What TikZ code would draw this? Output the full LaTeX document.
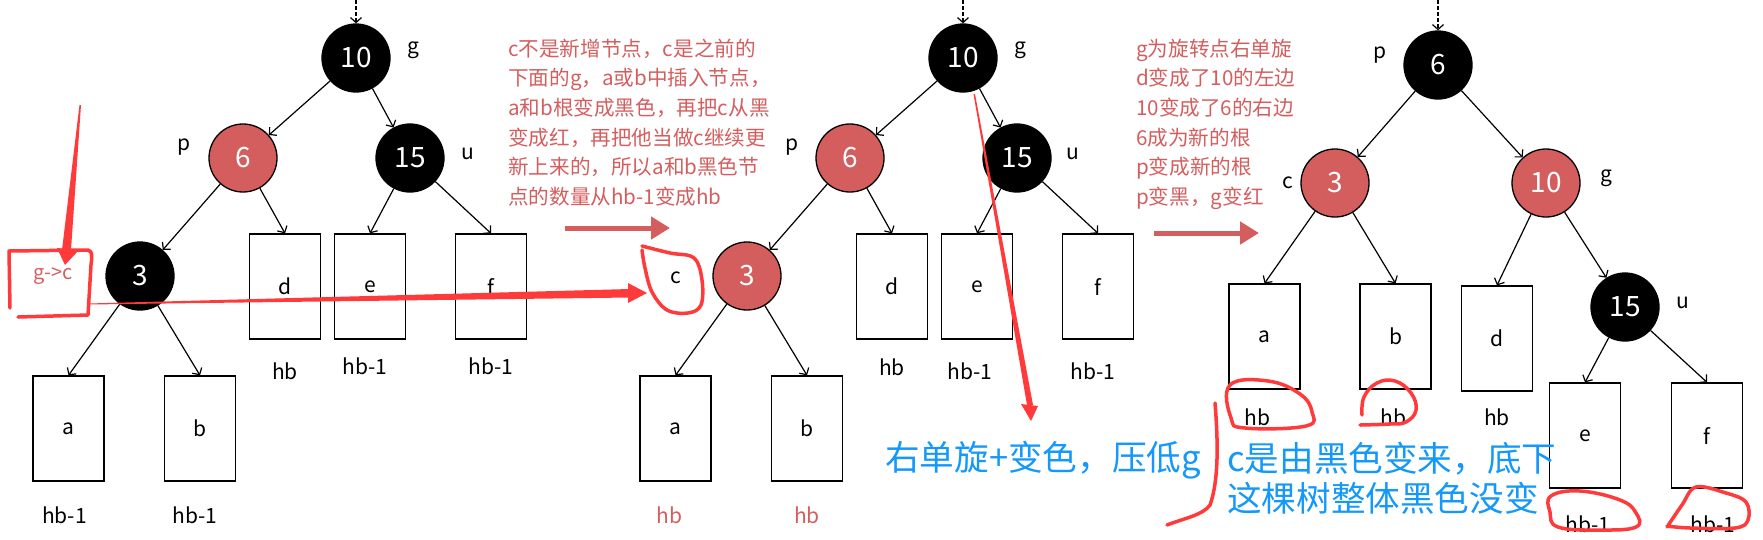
\documentclass[tikz,border=0pt]{standalone}
\usepackage{fontspec}
\setmainfont{Noto Sans CJK SC}
\usetikzlibrary{arrows.meta,positioning}

\definecolor{rbred}{RGB}{212,94,94}
\definecolor{inkred}{RGB}{255,58,58}
\definecolor{sayblue}{RGB}{20,152,250}

\begin{document}
\begin{tikzpicture}[
    x=1pt, y=-1pt, on grid,
    bnode/.style={circle, draw, line width=1.3pt, fill=black, text=white, minimum size=68pt, inner sep=0pt, font=\fontsize{28}{30}\selectfont},
    rnode/.style={bnode, fill=rbred},
    sub/.style={draw, line width=1.3pt, minimum width=71pt, minimum height=105pt, inner sep=0pt, font=\fontsize{21}{24}\selectfont},
    tag/.style={inner sep=0pt, font=\fontsize{21}{24}\selectfont},
    edge/.style={-{Straight Barb[length=5pt,width=11pt]}, line width=1.2pt},
    entry/.style={edge, dash pattern=on 3.5pt off 2.5pt},
    note/.style={text=rbred, align=left, inner sep=0pt, font=\fontsize{20.6}{29.7}\selectfont},
    say/.style={text=sayblue, align=left, inner sep=0pt, font=\fontsize{34.6}{40}\selectfont},
    go/.style={draw=rbred, line width=5pt, -{Triangle[length=19pt,width=22pt]}},
    ink/.style={draw=inkred, line width=3.5pt, line cap=round, line join=round}
]
\useasboundingbox (0,0) rectangle (1763,539);

% before: 3 is black
\node[bnode] (g1) at (356,58) {10};
\node[rnode, below left=100pt and 113pt of g1] (p1) {6};
\node[bnode, below right=100pt and 54pt of g1] (u1) {15};
\node[bnode, below left=118pt and 103pt of p1] (c1) {3};
\node[sub, below right=128.5pt and 42pt of p1] (d1) {d};
\node[sub, below left=128.5pt and 40pt of u1] (e1) {e};
\node[sub, below right=128.5pt and 81pt of u1] (f1) {f};
\node[sub, below left=152.5pt and 71.5pt of c1] (a1) {a};
\node[sub, below right=152.5pt and 60pt of c1] (b1) {b};
\node[tag, above right=8pt and 57pt of g1] (lg1) {g};
\node[tag, above left=11pt and 59pt of p1] (lp1) {p};
\node[tag, above right=4pt and 58pt of u1] (lu1) {u};
\node[tag, text=rbred, font=\fontsize{20}{24}\selectfont, left=87pt of c1] (gc) {g->c};
\node[tag, below=25pt of a1.south, xshift=-4pt] (ha1) {hb-1};
\node[tag, below=25pt of b1.south, xshift=-5pt] (hb1) {hb-1};
\node[tag, below=23pt of d1.south] (hd1) {hb};
\node[tag, below=18pt of e1.south, xshift=-5pt] (he1) {hb-1};
\node[tag, below=18pt of f1.south] (hf1) {hb-1};
\coordinate[above=58pt of g1] (in1);
\draw[entry] (in1) -- (g1);
\draw[edge] (g1) -- (p1);
\draw[edge] (g1) -- (u1);
\draw[edge] (p1) -- (c1);
\draw[edge] (p1) -- (d1.north);
\draw[edge] (u1) -- (e1.north);
\draw[edge] (u1) -- (f1.north);
\draw[edge] (c1) -- (a1.north);
\draw[edge] (c1) -- (b1.north);

% anchored at the baseline of the last line
\node[note, anchor=base west] (why) at (508,204.5) {c不是新增节点，c是之前的\\下面的g，a或b中插入节点，\\a和b根变成黑色，再把c从黑\\变成红，再把他当做c继续更\\新上来的，所以a和b黑色节\\点的数量从hb-1变成hb};
\coordinate (s1) at (565,228);
\coordinate (t1) at (670,228);
\draw[go] (s1) -- (t1);

% after recolouring: 3 is red
\node[bnode] (g2) at (963,58) {10};
\node[rnode, below left=100pt and 113pt of g2] (p2) {6};
\node[bnode, below right=100pt and 54pt of g2] (u2) {15};
\node[rnode, below left=118pt and 103pt of p2] (c2) {3};
\node[sub, below right=128.5pt and 42pt of p2] (d2) {d};
\node[sub, below left=128.5pt and 40pt of u2] (e2) {e};
\node[sub, below right=128.5pt and 81pt of u2] (f2) {f};
\node[sub, below left=152.5pt and 71.5pt of c2] (a2) {a};
\node[sub, below right=152.5pt and 60pt of c2] (b2) {b};
\node[tag, above right=8pt and 57pt of g2] (lg2) {g};
\node[tag, above left=11pt and 58pt of p2] (lp2) {p};
\node[tag, above right=4pt and 56pt of u2] (lu2) {u};
\node[tag, below left=2pt and 71pt of c2] (lc2) {c};
\node[tag, text=rbred, below=25pt of a2.south, xshift=-6pt] (ha2) {hb};
\node[tag, text=rbred, below=25pt of b2.south] (hb2) {hb};
\node[tag, below=19pt of d2.south] (hd2) {hb};
\node[tag, below=23pt of e2.south, xshift=-7pt] (he2) {hb-1};
\node[tag, below=23pt of f2.south, xshift=-5pt] (hf2) {hb-1};
\coordinate[above=58pt of g2] (in2);
\draw[entry] (in2) -- (g2);
\draw[edge] (g2) -- (p2);
\draw[edge] (g2) -- (u2);
\draw[edge] (p2) -- (c2);
\draw[edge] (p2) -- (d2.north);
\draw[edge] (u2) -- (e2.north);
\draw[edge] (u2) -- (f2.north);
\draw[edge] (c2) -- (a2.north);
\draw[edge] (c2) -- (b2.north);

\node[note, anchor=base west] (how) at (1136,204.5) {g为旋转点右单旋\\d变成了10的左边\\10变成了6的右边\\6成为新的根\\p变成新的根\\p变黑，g变红};
\coordinate (s2) at (1154,233);
\coordinate (t2) at (1259,233);
\draw[go] (s2) -- (t2);

% after rotation
\node[bnode] (p3) at (1438,65) {6};
\node[rnode, below left=118pt and 103pt of p3] (c3) {3};
\node[rnode, below right=118pt and 108pt of p3] (g3) {10};
\node[bnode, below right=124pt and 79pt of g3] (u3) {15};
\node[sub, below left=153.5pt and 70.5pt of c3] (a3) {a};
\node[sub, below right=153.5pt and 60.5pt of c3] (b3) {b};
\node[sub, below left=155.5pt and 49pt of g3] (d3) {d};
\node[sub, below left=128.5pt and 40pt of u3] (e3) {e};
\node[sub, below right=128.5pt and 82pt of u3] (f3) {f};
\node[tag, above left=10pt and 58pt of p3] (lp3) {p};
\node[tag, left=47pt of c3] (lc3) {c};
\node[tag, above right=5pt and 60pt of g3] (lg3) {g};
\node[tag, above right=4pt and 58pt of u3] (lu3) {u};
\node[tag, below=19pt of a3.south, xshift=-7pt] (ha3) {hb};
\node[tag, below=19pt of b3.south, xshift=-2pt] (hb3) {hb};
\node[tag, below=17pt of d3.south] (hd3) {hb};
\node[tag, below=27pt of e3.south, xshift=3pt] (he3) {hb-1};
\node[tag, below=27pt of f3.south, xshift=6pt] (hf3) {hb-1};
\coordinate[above=65pt of p3] (in3);
\draw[entry] (in3) -- (p3);
\draw[edge] (p3) -- (c3);
\draw[edge] (p3) -- (g3);
\draw[edge] (c3) -- (a3.north);
\draw[edge] (c3) -- (b3.north);
\draw[edge] (g3) -- (d3.north);
\draw[edge] (g3) -- (u3);
\draw[edge] (u3) -- (e3.north);
\draw[edge] (u3) -- (f3.north);

\node[say, anchor=base west] (sum1) at (885,470) {右单旋+变色，压低g};
\node[say, anchor=base west] (sum2) at (1227,511) {c是由黑色变来，底下\\这棵树整体黑色没变};

% hand-drawn marks
\fill[inkred] (79.5,105) -- (81,105) -- (71,250) -- (62,250) -- cycle;
\fill[inkred] (57,248) -- (79,250) -- (65,265) -- cycle;
\draw[ink] (10,308) -- (9,251) -- (88,250) .. controls (93,251) and (92,258) .. (91,265) -- (88,315) -- (18,317);
\fill[inkred] (88,303.5) -- (88,304.5) -- (630,297.5) -- (630,289) -- cycle;
\fill[inkred] (628,283) -- (647,293) -- (628,303) -- cycle;
\draw[ink] plot[smooth, tension=0.6] coordinates {(642,246) (670,253) (694,258) (702,280) (701,305) (688,313) (667,310) (652,292) (645,268) (642,250)};
\fill[inkred] (973.5,94) -- (975,94) -- (1033,405) -- (1027,405) -- cycle;
\fill[inkred] (1021,404) -- (1038,406) -- (1031,421) -- cycle;
\draw[ink] (1215,403) .. controls (1218,440) and (1219,480) .. (1210,505) .. controls (1203,515) and (1185,518) .. (1167,525);
\draw[ink] plot[smooth cycle, tension=0.7] coordinates {(1230,385) (1268,381) (1300,394) (1312,412) (1306,426) (1245,428) (1231,418)};
\draw[ink] plot[smooth, tension=0.7] coordinates {(1362,415) (1364,397) (1377,383) (1395,381) (1411,393) (1416,410) (1406,422) (1390,424) (1360,425)};
\draw[ink] plot[smooth cycle, tension=0.7] coordinates {(1551,496) (1580,491) (1620,500) (1636,513) (1636,527) (1600,530) (1558,527) (1550,512)};
\draw[ink] plot[smooth, tension=0.6] coordinates {(1667,527) (1682,505) (1696,487) (1726,493) (1746,502) (1748,520) (1735,528) (1690,528) (1667,526)};
\end{tikzpicture}
\end{document}
